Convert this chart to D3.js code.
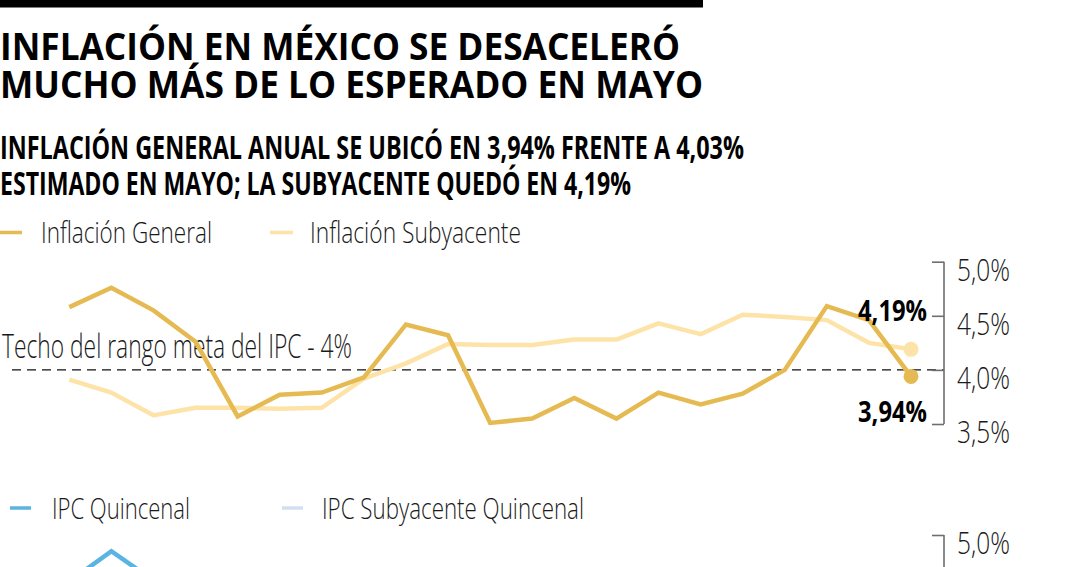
<!DOCTYPE html>
<html>
<head>
<meta charset="utf-8">
<script src="https://cdn.jsdelivr.net/npm/d3@7"></script>
<style>
  body { margin: 0; background: #fff; overflow: hidden; }
  svg { display: block; }
  text { font-family: "Open Sans", "Noto Sans", Roboto, sans-serif; fill: #1a1a1a; }
  .light { font-weight: 300; }
  .bold { font-weight: 700; }
</style>
</head>
<body>
<svg id="chart"></svg>
<script>
// inflación anual (%), 21 lecturas mensuales
const inflacionGeneral = [4.58, 4.76, 4.55, 4.26, 3.57, 3.77, 3.79, 3.93, 4.42, 4.32, 3.51,
    3.55, 3.74, 3.55, 3.79, 3.68, 3.78, 4.00, 4.59, 4.46, 3.94];
const inflacionSubyacente = [3.91, 3.79, 3.58, 3.65, 3.65, 3.64, 3.65, 3.92, 4.06, 4.24, 4.23,
    4.23, 4.28, 4.28, 4.43, 4.33, 4.51, 4.49, 4.46, 4.25, 4.19];
// IPC quincenal: sólo el tramo inicial es visible
const ipcQuincenal = [4.57, 4.85, 4.58];

const yTicks = [3.5, 4.0, 4.5, 5.0];
const yTicks2 = [5.0];
const meta = 4.0;

const width = 1080;
const height = 567;

const svg = d3.select('#chart')
    .attr('width', width)
    .attr('height', height);

const fmt = v => d3.format('.1f')(v).replace('.', ',') + '%';

// helper: text with a fixed width (condensed look)
function label(x, y, str, cls, size, w, anchor) {
    const t = svg.append('text')
        .attr('x', x)
        .attr('y', y)
        .attr('class', cls)
        .style('font-size', size + 'px')
        .attr('text-anchor', anchor || 'start')
        .text(str);
    if (w) t.attr('textLength', w).attr('lengthAdjust', 'spacingAndGlyphs');
    return t;
}

// top bar
svg.append('rect').attr('x', 0).attr('y', 0).attr('width', 703).attr('height', 7.5).attr('fill', '#000');

// titles
label(0, 60, 'INFLACIÓN EN MÉXICO SE DESACELERÓ', 'bold', 37, 680).style('fill', '#000');
label(0, 98, 'MUCHO MÁS DE LO ESPERADO EN MAYO', 'bold', 37, 703).style('fill', '#000');
label(0, 159, 'INFLACIÓN GENERAL ANUAL SE UBICÓ EN 3,94% FRENTE A 4,03%', 'bold', 32, 744).style('fill', '#000');
label(0, 195, 'ESTIMADO EN MAYO; LA SUBYACENTE QUEDÓ EN 4,19%', 'bold', 32, 631).style('fill', '#000');

const colGeneral = '#E6BA52';
const colSub = '#FDE3A8';
const colQuin = '#5AB4E2';
const colQuinSub = '#D4DEF0';

// legend 1
svg.append('line').attr('x1', 0).attr('x2', 22).attr('y1', 232.5).attr('y2', 232.5)
    .attr('stroke', colGeneral).attr('stroke-width', 3.5);
label(41, 243, 'Inflación General', 'light', 30, 171);
svg.append('line').attr('x1', 270).attr('x2', 293).attr('y1', 232.5).attr('y2', 232.5)
    .attr('stroke', colSub).attr('stroke-width', 3.5);
label(310, 243, 'Inflación Subyacente', 'light', 30, 211);

// scales
const x = d3.scaleLinear().domain([0, inflacionGeneral.length - 1]).range([69.3, 911]);
const y = d3.scaleLinear().domain([3.5, 5.0]).range([424, 261.7]);
const axisX = 944;

// target ceiling
label(2, 358, 'Techo del rango meta del IPC - 4%', 'light', 33, 350);
svg.append('line')
    .attr('x1', 12).attr('x2', axisX)
    .attr('y1', y(meta)).attr('y2', y(meta))
    .attr('stroke', '#111').attr('stroke-width', 1.4)
    .attr('stroke-dasharray', '9,6');

// right axis (bracket)
const axis = d3.axisLeft(y).tickValues(yTicks).tickSize(12).tickFormat('');
const gAxis = svg.append('g').attr('transform', `translate(${axisX},0)`).call(axis);
gAxis.select('.domain').remove();
gAxis.selectAll('.tick line').attr('stroke', '#6e6e6e').attr('stroke-width', 1.6);
gAxis.append('line').attr('y1', y(5.0)).attr('y2', y(3.5)).attr('stroke', '#6e6e6e').attr('stroke-width', 1.6);
yTicks.forEach(v => label(957, y(v) + 19, fmt(v), 'light', 31, 53));

const line = d3.line().x((d, i) => x(i)).y(d => y(d));

svg.append('path').datum(inflacionSubyacente)
    .attr('d', line).attr('fill', 'none')
    .attr('stroke', colSub).attr('stroke-width', 4.5)
    .attr('stroke-linejoin', 'round');
svg.append('path').datum(inflacionGeneral)
    .attr('d', line).attr('fill', 'none')
    .attr('stroke', colGeneral).attr('stroke-width', 4.5)
    .attr('stroke-linejoin', 'miter');

const last = inflacionGeneral.length - 1;
svg.append('circle').attr('cx', x(last)).attr('cy', y(inflacionSubyacente[last])).attr('r', 7.5).attr('fill', colSub);
svg.append('circle').attr('cx', x(last)).attr('cy', y(inflacionGeneral[last])).attr('r', 7.5).attr('fill', colGeneral);

label(927, 320.5, '4,19%', 'bold', 29, 69, 'end').style('fill', '#000');
label(927, 422, '3,94%', 'bold', 29, 69, 'end').style('fill', '#000');

// legend 2
svg.append('line').attr('x1', 10).attr('x2', 31).attr('y1', 508).attr('y2', 508)
    .attr('stroke', colQuin).attr('stroke-width', 3.5);
label(52, 519, 'IPC Quincenal', 'light', 30, 138);
svg.append('line').attr('x1', 282).attr('x2', 303).attr('y1', 508).attr('y2', 508)
    .attr('stroke', colQuinSub).attr('stroke-width', 3.5);
label(322, 519, 'IPC Subyacente Quincenal', 'light', 30, 262);

// second chart (mostly below the fold)
const y2 = d3.scaleLinear().domain([3.5, 5.0]).range([535 + 162.3, 535]);
const axis2 = d3.axisLeft(y2).tickValues(yTicks2).tickSize(12).tickFormat('');
const gAxis2 = svg.append('g').attr('transform', `translate(${axisX},0)`).call(axis2);
gAxis2.select('.domain').remove();
gAxis2.selectAll('.tick line').attr('stroke', '#6e6e6e').attr('stroke-width', 1.6);
gAxis2.append('line').attr('y1', y2(5.0)).attr('y2', y2(3.5)).attr('stroke', '#6e6e6e').attr('stroke-width', 1.6);
yTicks2.forEach(v => label(957, y2(v) + 19, fmt(v), 'light', 31, 53));

const line2 = d3.line().x((d, i) => x(i)).y(d => y2(d));
svg.append('path').datum(ipcQuincenal)
    .attr('d', line2).attr('fill', 'none')
    .attr('stroke', colQuin).attr('stroke-width', 4.5);
</script>
</body>
</html>
